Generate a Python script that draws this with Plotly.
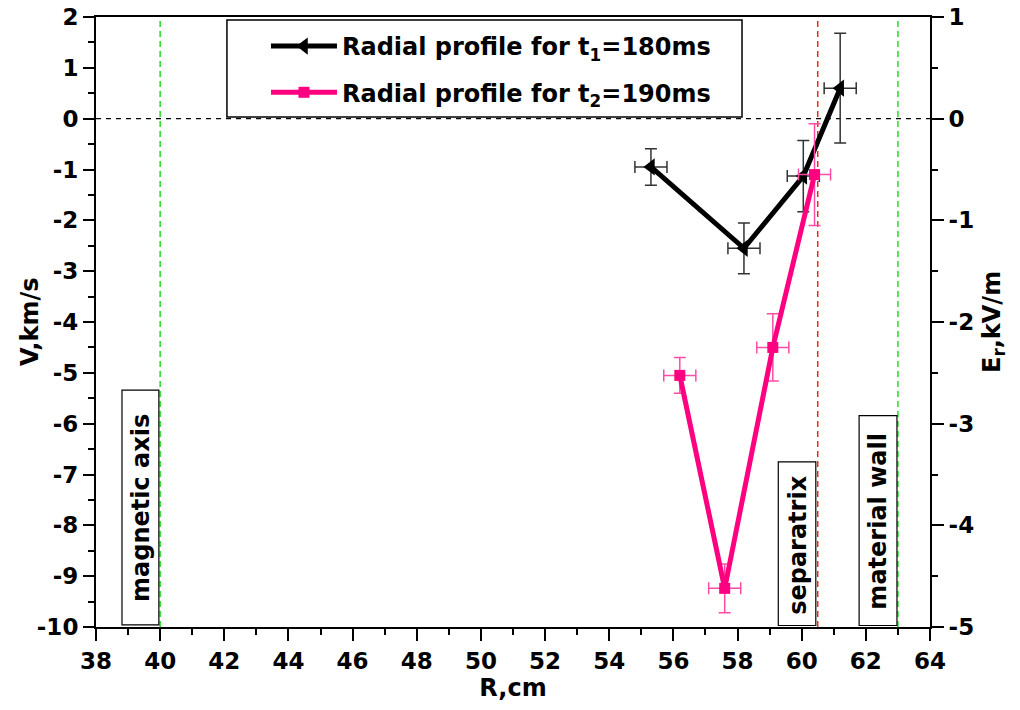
import plotly.graph_objects as go

# Radial profile at t1 = 180 ms
r_t1 = [55.3, 58.2, 60.05, 61.2]
v_t1 = [-0.95, -2.55, -1.13, 0.6]
v_t1_err = [0.36, 0.5, 0.7, 1.08]
r_t1_err = [0.5, 0.5, 0.5, 0.5]

# Radial profile at t2 = 190 ms
r_t2 = [56.2, 57.6, 59.1, 60.4]
v_t2 = [-5.05, -9.24, -4.5, -1.1]
v_t2_err = [0.35, 0.48, 0.66, 1.0]
r_t2_err = [0.5, 0.5, 0.5, 0.5]

# Characteristic radii
r_magnetic_axis = 40
r_separatrix = 60.5
r_material_wall = 63

# Axis ticks
r_ticks = list(range(38, 65, 2))
v_ticks = list(range(-10, 3))
e_ticks = list(range(-5, 2))

FONT = "DejaVu Sans"
BLACK = "#000000"
PINK = "#ff0080"
PINK_ERR = "#ff4da6"
GREEN = "#22dd22"
RED = "#ff2020"


def hyphen_labels(vals):
    # plain ASCII hyphen for negative numbers
    return [str(v) for v in vals]


fig = go.Figure()

fig.add_trace(go.Scatter(
    x=r_t1, y=v_t1, mode="lines+markers",
    name="Radial profile for t<sub>1</sub>=180ms",
    legendgroup="t1",
    line=dict(color=BLACK, width=5),
    marker=dict(symbol="triangle-left", size=15, color=BLACK),
    error_y=dict(type="data", array=v_t1_err, color="#333333", thickness=1.5, width=6),
    error_x=dict(type="data", array=r_t1_err, color="#333333", thickness=1.5, width=6),
))

fig.add_trace(go.Scatter(
    x=r_t2, y=v_t2, mode="lines+markers",
    name="Radial profile for t<sub>2</sub>=190ms",
    legendgroup="t2",
    line=dict(color=PINK, width=5),
    marker=dict(symbol="square", size=11, color=PINK),
    error_y=dict(type="data", array=v_t2_err, color=PINK_ERR, thickness=1.5, width=6),
    error_x=dict(type="data", array=r_t2_err, color=PINK_ERR, thickness=1.5, width=6),
))

# Empty trace bound to the right-hand E_r axis
fig.add_trace(go.Scatter(x=[], y=[], yaxis="y2", showlegend=False, hoverinfo="skip"))

shapes = [
    dict(type="line", xref="paper", yref="y", x0=0, x1=1, y0=0, y1=0,
         line=dict(color=BLACK, width=1.3, dash="5px,5px"), layer="below"),
    dict(type="line", xref="x", yref="paper", x0=r_magnetic_axis, x1=r_magnetic_axis, y0=0, y1=1,
         line=dict(color=GREEN, width=1.5, dash="6px,4px"), layer="below"),
    dict(type="line", xref="x", yref="paper", x0=r_material_wall, x1=r_material_wall, y0=0, y1=1,
         line=dict(color=GREEN, width=1.5, dash="6px,4px"), layer="below"),
    dict(type="line", xref="x", yref="paper", x0=r_separatrix, x1=r_separatrix, y0=0, y1=1,
         line=dict(color=RED, width=1.5, dash="6px,4px"), layer="below"),
    # label frames
    dict(type="rect", xref="x", yref="y", x0=38.81, x1=39.96, y0=-9.96, y1=-5.34,
         line=dict(color=BLACK, width=1.2), fillcolor="white", layer="below"),
    dict(type="rect", xref="x", yref="y", x0=59.27, x1=60.44, y0=-9.97, y1=-6.75,
         line=dict(color=BLACK, width=1.2), fillcolor="white", layer="below"),
    dict(type="rect", xref="x", yref="y", x0=61.79, x1=62.97, y0=-9.97, y1=-5.84,
         line=dict(color=BLACK, width=1.2), fillcolor="white", layer="below"),
    # legend frame
    dict(type="rect", xref="paper", yref="paper", x0=0.157, x1=0.7746, y0=0.836, y1=0.995,
         line=dict(color=BLACK, width=1.5), fillcolor="white", layer="below"),
]

label_font = dict(family=FONT, size=24, color=BLACK, weight="bold")
title_font = dict(family=FONT, size=24, color=BLACK, weight="bold")
annotations = [
    dict(text="magnetic axis", x=39.40, y=-7.66, xref="x", yref="y", textangle=-90,
         showarrow=False, font=label_font, xanchor="center", yanchor="middle"),
    dict(text="separatrix", x=59.86, y=-8.38, xref="x", yref="y", textangle=-90,
         showarrow=False, font=label_font, xanchor="center", yanchor="middle"),
    dict(text="material wall", x=62.39, y=-7.92, xref="x", yref="y", textangle=-90,
         showarrow=False, font=label_font, xanchor="center", yanchor="middle"),
    # vertical axis titles
    dict(text="V,km/s", x=-0.079, y=0.5, xref="paper", yref="paper", textangle=-90,
         showarrow=False, font=title_font, xanchor="center", yanchor="middle"),
    dict(text="E<sub>r</sub>,kV/m", x=1.0755, y=0.5, xref="paper", yref="paper", textangle=-90,
         showarrow=False, font=title_font, xanchor="center", yanchor="middle"),
]

tick_font = dict(family=FONT, size=23, color=BLACK, weight="bold")

fig.update_layout(
    width=1020, height=710,
    margin=dict(l=96, r=90, t=17, b=83),
    paper_bgcolor="white", plot_bgcolor="white",
    shapes=shapes, annotations=annotations,
    showlegend=True,
    legend=dict(x=0.2038, y=0.9885, xanchor="left", yanchor="top",
                bgcolor="rgba(0,0,0,0)", borderwidth=0,
                font=dict(family=FONT, size=24, color=BLACK, weight="bold"),
                itemwidth=66, tracegroupgap=12),
    xaxis=dict(range=[38, 64], tickmode="array", tickvals=r_ticks, ticktext=hyphen_labels(r_ticks),
               showgrid=False, zeroline=False, showline=True, linecolor=BLACK, linewidth=2,
               mirror=True, ticks="outside", ticklen=12, tickwidth=2, tickcolor=BLACK,
               minor=dict(ticks="outside", ticklen=6, tickwidth=2, tickcolor=BLACK, dtick=1, showgrid=False),
               tickfont=tick_font, automargin=False,
               title=dict(text="R,cm", font=title_font, standoff=6)),
    yaxis=dict(range=[-10, 2], tickmode="array", tickvals=v_ticks, ticktext=hyphen_labels(v_ticks),
               showgrid=False, zeroline=False, showline=True, linecolor=BLACK, linewidth=2,
               ticks="outside", ticklen=11, tickwidth=2, tickcolor=BLACK,
               minor=dict(ticks="outside", ticklen=6, tickwidth=2, tickcolor=BLACK, dtick=0.5, showgrid=False),
               tickfont=tick_font, automargin=False),
    yaxis2=dict(range=[-5, 1], overlaying="y", side="right", tickmode="array",
                tickvals=e_ticks, ticktext=hyphen_labels(e_ticks),
                showgrid=False, zeroline=False, showline=True, linecolor=BLACK, linewidth=2,
                ticks="outside", ticklen=12, tickwidth=2, tickcolor=BLACK,
                minor=dict(ticks="outside", ticklen=6, tickwidth=2, tickcolor=BLACK, dtick=0.5, showgrid=False),
                tickfont=tick_font, automargin=False),
)

fig.write_html("out.html")
